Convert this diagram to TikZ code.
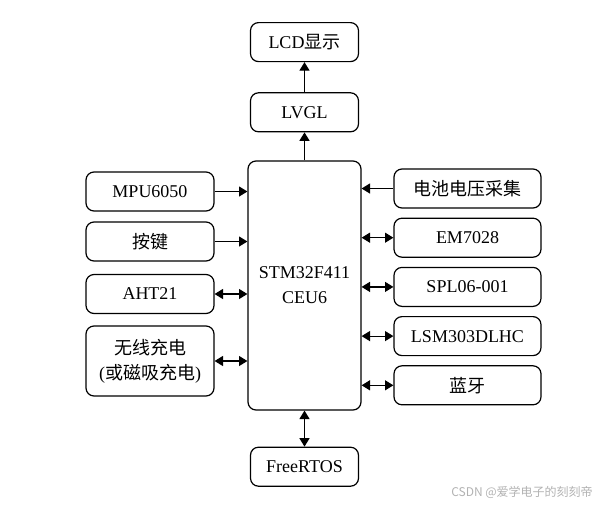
\documentclass[tikz,border=0pt]{standalone}
\usepackage{fontspec}
\setmainfont{Liberation Serif}
\newfontfamily\cjk{Noto Sans CJK SC}
\usetikzlibrary{positioning,arrows.meta}

\begin{document}
\begin{tikzpicture}[x=0.5pt,y=-0.5pt,font=\fontsize{9}{12.5}\selectfont,
  >={Triangle[length=4.2pt,width=5pt]},line width=0.6pt,
  b/.style={draw,rounded corners=4pt,align=center,inner sep=2pt,minimum height=19.5pt},
  lb/.style={b,minimum width=64pt},
  rb/.style={b,minimum width=73.5pt},
  cb/.style={b,minimum width=54pt}]
  \useasboundingbox (0,0) rectangle (606,505);
  % MCU in the middle
  \node[b,minimum width=56.5pt,minimum height=124.5pt] (stm) at (304.5,285.5) {STM32F411\\CEU6};
  \node[cb,above=14pt of stm] (lvgl) {LVGL};
  \node[cb,above=15pt of lvgl] (lcd) {LCD{\cjk 显示}};
  \node[cb,below=18pt of stm] (rtos) {FreeRTOS};
  % left column
  \node[lb] (mpu) at (150,191.5) {MPU6050};
  \node[lb] (key) at (150,241.5) {\cjk 按键};
  \node[lb] (aht) at (150,294) {AHT21};
  \node[lb,minimum height=35pt] (wlc) at (150,361) {{\cjk 无线充电}\\({\cjk 或磁吸充电})};
  % right column
  \node[rb] (bat) at (467.5,188.5) {\cjk 电池电压采集};
  \node[rb,below=4.5pt of bat] (em) {EM7028};
  \node[rb,below=4.5pt of em] (spl) {SPL06-001};
  \node[rb,below=4.5pt of spl] (lsm) {LSM303DLHC};
  \node[rb,below=4.5pt of lsm] (bt) {\cjk 蓝牙};
  \draw[->] (stm)--(lvgl); \draw[->] (lvgl)--(lcd);
  \draw[<->] (stm)--(rtos);
  \draw[->] (mpu.east)--(mpu.east-|stm.west);
  \draw[->] (key.east)--(key.east-|stm.west);
  \draw[<->] (aht.east)--(aht.east-|stm.west);
  \draw[<->] (wlc.east)--(wlc.east-|stm.west);
  \draw[->] (bat.west)--(bat.west-|stm.east);
  \draw[<->] (em.west)--(em.west-|stm.east);
  \draw[<->] (spl.west)--(spl.west-|stm.east);
  \draw[<->] (lsm.west)--(lsm.west-|stm.east);
  \draw[<->] (bt.west)--(bt.west-|stm.east);
  \node[anchor=east,text=gray!60,font=\cjk\fontsize{6}{7}\selectfont] (wm) at (600,492) {CSDN @爱学电子的刻刻帝};
\end{tikzpicture}
\end{document}
